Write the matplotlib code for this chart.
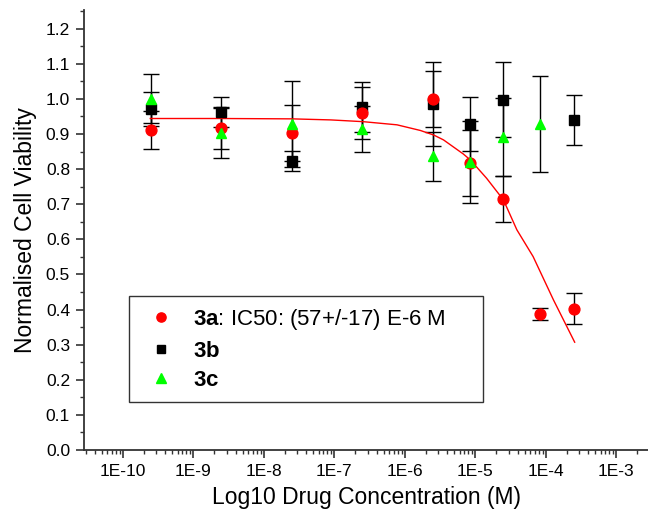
import numpy as np
import matplotlib
matplotlib.use('Agg')
import matplotlib.pyplot as plt
from matplotlib.ticker import LogLocator, MultipleLocator, FuncFormatter, NullFormatter

plt.rcParams['font.family'] = ['Liberation Sans', 'DejaVu Sans']
plt.rcParams['mathtext.fontset'] = 'custom'
plt.rcParams['mathtext.rm'] = 'Liberation Sans'
plt.rcParams['mathtext.bf'] = 'Liberation Sans:bold'

# Drug concentrations (M)
conc = [2.5e-10, 2.5e-9, 2.5e-8, 2.5e-7, 2.5e-6, 8.33e-6, 2.5e-5, 8.33e-5, 2.5e-4]

# 3a
a_val = [0.912, 0.916, 0.903, 0.959, 0.999, 0.817, 0.714, 0.386, 0.402]
a_err = [0.054, 0.058, 0.080, 0.074, 0.080, 0.095, 0.066, 0.017, 0.044]
# 3b (no value at 8.33e-5)
b_conc = [2.5e-10, 2.5e-9, 2.5e-8, 2.5e-7, 2.5e-6, 8.33e-6, 2.5e-5, 2.5e-4]
b_val = [0.971, 0.962, 0.823, 0.978, 0.986, 0.928, 0.998, 0.940]
b_err = [0.048, 0.043, 0.029, 0.071, 0.120, 0.076, 0.107, 0.071]
# 3c (no value at 2.5e-4)
c_conc = [2.5e-10, 2.5e-9, 2.5e-8, 2.5e-7, 2.5e-6, 8.33e-6, 2.5e-5, 8.33e-5]
c_val = [1.000, 0.904, 0.929, 0.915, 0.836, 0.821, 0.891, 0.928]
c_err = [0.070, 0.072, 0.122, 0.065, 0.071, 0.117, 0.110, 0.136]

# fitted curve for 3a (log10 conc, viability)
fit_logx = [-9.61, -8.61, -7.60, -7.05, -6.59, -6.11, -5.78, -5.59, -5.45,
            -5.17, -5.07, -4.84, -4.60, -4.41, -4.18, -3.89, -3.59]
fit_y = [0.944, 0.944, 0.943, 0.940, 0.935, 0.926, 0.910, 0.897, 0.883,
         0.843, 0.826, 0.774, 0.712, 0.627, 0.551, 0.427, 0.307]

xticks = [1e-10, 1e-9, 1e-8, 1e-7, 1e-6, 1e-5, 1e-4, 1e-3]
xtick_labels = ['1E-10', '1E-9', '1E-8', '1E-7', '1E-6', '1E-5', '1E-4', '1E-3']

fig = plt.figure(figsize=(6.48, 5.11), dpi=100)
ax = fig.add_axes([84 / 648, 61 / 511, (648 - 84) / 648, (450 - 10) / 511])

ekw = dict(fmt='none', ecolor='black', elinewidth=1.0, capsize=6, capthick=1.0, zorder=2)
ax.errorbar(b_conc, b_val, yerr=b_err, **ekw)
ax.errorbar(conc, a_val, yerr=a_err, **ekw)
ax.errorbar(c_conc, c_val, yerr=c_err, **ekw)

ax.plot(10 ** np.array(fit_logx), fit_y, color='red', lw=1.0, zorder=3)

ax.plot(b_conc, b_val, 's', color='black', ms=7, ls='none', zorder=4, label=r'$\mathbf{3b}$')
ax.plot(conc, a_val, 'o', color='red', ms=7.8, ls='none', zorder=5,
        label=r'$\mathbf{3a}$: IC50: (57+/-17) E-6 M')
ax.plot(c_conc, c_val, '^', color='#00ff00', ms=7.8, ls='none', zorder=6, label=r'$\mathbf{3c}$')

ax.set_xscale('log')
ax.set_xlim(10 ** -10.55, 10 ** -2.55)
ax.set_ylim(0, 1.253)

ax.set_xticks(xticks)
ax.set_xticklabels(xtick_labels)
ax.xaxis.set_minor_locator(LogLocator(base=10, subs=np.arange(2, 10), numticks=20))
ax.xaxis.set_minor_formatter(NullFormatter())
ax.yaxis.set_major_locator(MultipleLocator(0.1))
ax.yaxis.set_minor_locator(MultipleLocator(0.05))
ax.yaxis.set_major_formatter(FuncFormatter(lambda v, p: '%.1f' % v))

ax.spines['top'].set_visible(False)
ax.spines['right'].set_visible(False)
for s in ('left', 'bottom'):
    ax.spines[s].set_linewidth(1.3)
    ax.spines[s].set_color('#333333')
ax.tick_params(which='major', direction='out', length=6, width=1.2, labelsize=12.5, colors='#333333',
               labelcolor='black', pad=4)
ax.tick_params(which='minor', direction='out', length=3, width=1.0, colors='#333333')

ax.set_xlabel('Log10 Drug Concentration (M)', fontsize=16.5, labelpad=5)
ax.set_ylabel('Normalised Cell Viability', fontsize=16.5, labelpad=6)

h, l = ax.get_legend_handles_labels()
order = [1, 0, 2]
x0 = (129 - 84) / 564
x1 = (483 - 84) / 564
ytop = (450 - 296) / 440
leg = ax.legend([h[i] for i in order], [l[i] for i in order], loc='upper left',
                bbox_to_anchor=(x0, ytop - 0.3, x1 - x0, 0.3), mode='expand', fontsize=16,
                frameon=True, fancybox=False, edgecolor='black', handlelength=1.9,
                handletextpad=0.5, borderpad=0.5, labelspacing=0.38, borderaxespad=0,
                markerscale=0.85)
leg.get_frame().set_linewidth(1.0)

fig.savefig('out.png', dpi=100)
